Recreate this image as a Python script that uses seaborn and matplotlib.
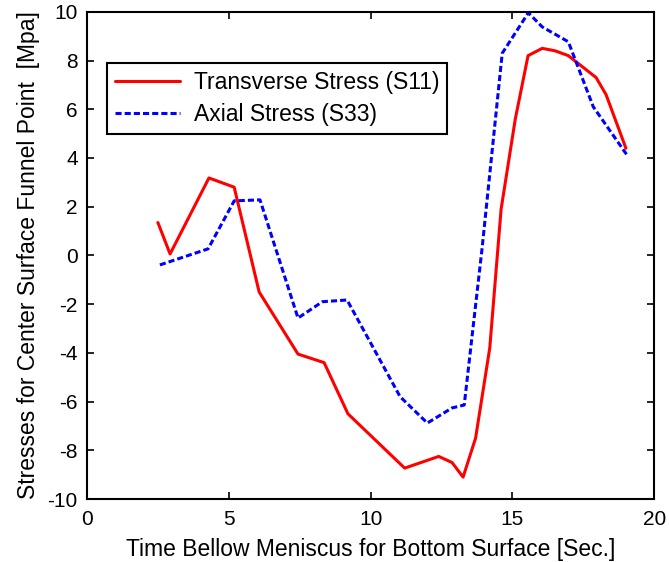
import matplotlib
matplotlib.use("Agg")
import matplotlib.pyplot as plt
import seaborn as sns
import pandas as pd

# Data
time_s11 = [2.5, 2.93, 4.3, 5.19, 6.07, 7.44, 8.36, 9.2, 11.2, 12.4, 12.87, 13.26,
            13.7, 14.2, 14.6, 15.1, 15.55, 16.05, 16.5, 16.97, 17.95, 18.3, 19.0]
stress_s11 = [1.35, 0.06, 3.18, 2.8, -1.5, -4.05, -4.4, -6.5, -8.73, -8.25, -8.5, -9.1,
              -7.5, -3.8, 1.9, 5.6, 8.2, 8.5, 8.4, 8.2, 7.3, 6.6, 4.4]

time_s33 = [2.57, 4.27, 5.19, 6.1, 7.44, 8.3, 9.17, 11.04, 12.0, 12.87, 13.3,
            13.93, 14.64, 15.56, 16.05, 16.97, 17.85, 19.05]
stress_s33 = [-0.39, 0.27, 2.24, 2.28, -2.57, -1.9, -1.83, -5.8, -6.88, -6.26, -6.14,
              0.3, 8.3, 9.96, 9.38, 8.77, 6.1, 4.1]

label_s11 = "Transverse Stress (S11)"
label_s33 = "Axial Stress (S33)"
x_ticks = [0, 5, 10, 15, 20]
y_ticks = [-10, -8, -6, -4, -2, 0, 2, 4, 6, 8, 10]

df = pd.concat([
    pd.DataFrame({"t": time_s11, "s": stress_s11, "series": label_s11}),
    pd.DataFrame({"t": time_s33, "s": stress_s33, "series": label_s33}),
], ignore_index=True)

sns.set_style("ticks")
plt.rcParams["font.family"] = ["Liberation Sans", "DejaVu Sans"]
plt.rcParams["axes.unicode_minus"] = False
plt.rcParams["text.color"] = "black"
plt.rcParams["axes.labelcolor"] = "black"

fig = plt.figure(figsize=(6.69, 5.62), dpi=100)
ax = fig.add_axes([0.130, 0.112, 0.848, 0.867])

sns.lineplot(data=df, x="t", y="s", hue="series", style="series",
             palette={label_s11: "#ff0000", label_s33: "#0000ff"},
             dashes={label_s11: "", label_s33: (2, 1)},
             sort=False, estimator=None, linewidth=2.2, ax=ax)

ax.set_xlim(0, 20)
ax.set_ylim(-10, 10)
ax.set_xticks(x_ticks)
ax.set_yticks(y_ticks)
ax.tick_params(direction="in", top=True, right=True, length=5, width=1.2,
               labelsize=15, colors="black")
ax.tick_params(axis="x", pad=8)
ax.tick_params(axis="y", pad=6.6)
for sp in ax.spines.values():
    sp.set_linewidth(1.5)
    sp.set_color("black")
    sp.set_visible(True)

ax.set_xlabel("Time Bellow Meniscus for Bottom Surface [Sec.]", fontsize=16.5, labelpad=6)
ax.set_ylabel("Stresses for Center Surface Funnel Point  [Mpa]", fontsize=16.5, labelpad=5.6)

leg = ax.legend(loc="upper left", bbox_to_anchor=(0.035, 0.895), fontsize=16.5,
                frameon=True, fancybox=False, edgecolor="black", framealpha=1,
                handlelength=2.85, handletextpad=0.6, borderpad=0.35, labelspacing=0.4,
                borderaxespad=0)
leg.get_frame().set_linewidth(1.5)

fig.savefig("out.png", dpi=100)
